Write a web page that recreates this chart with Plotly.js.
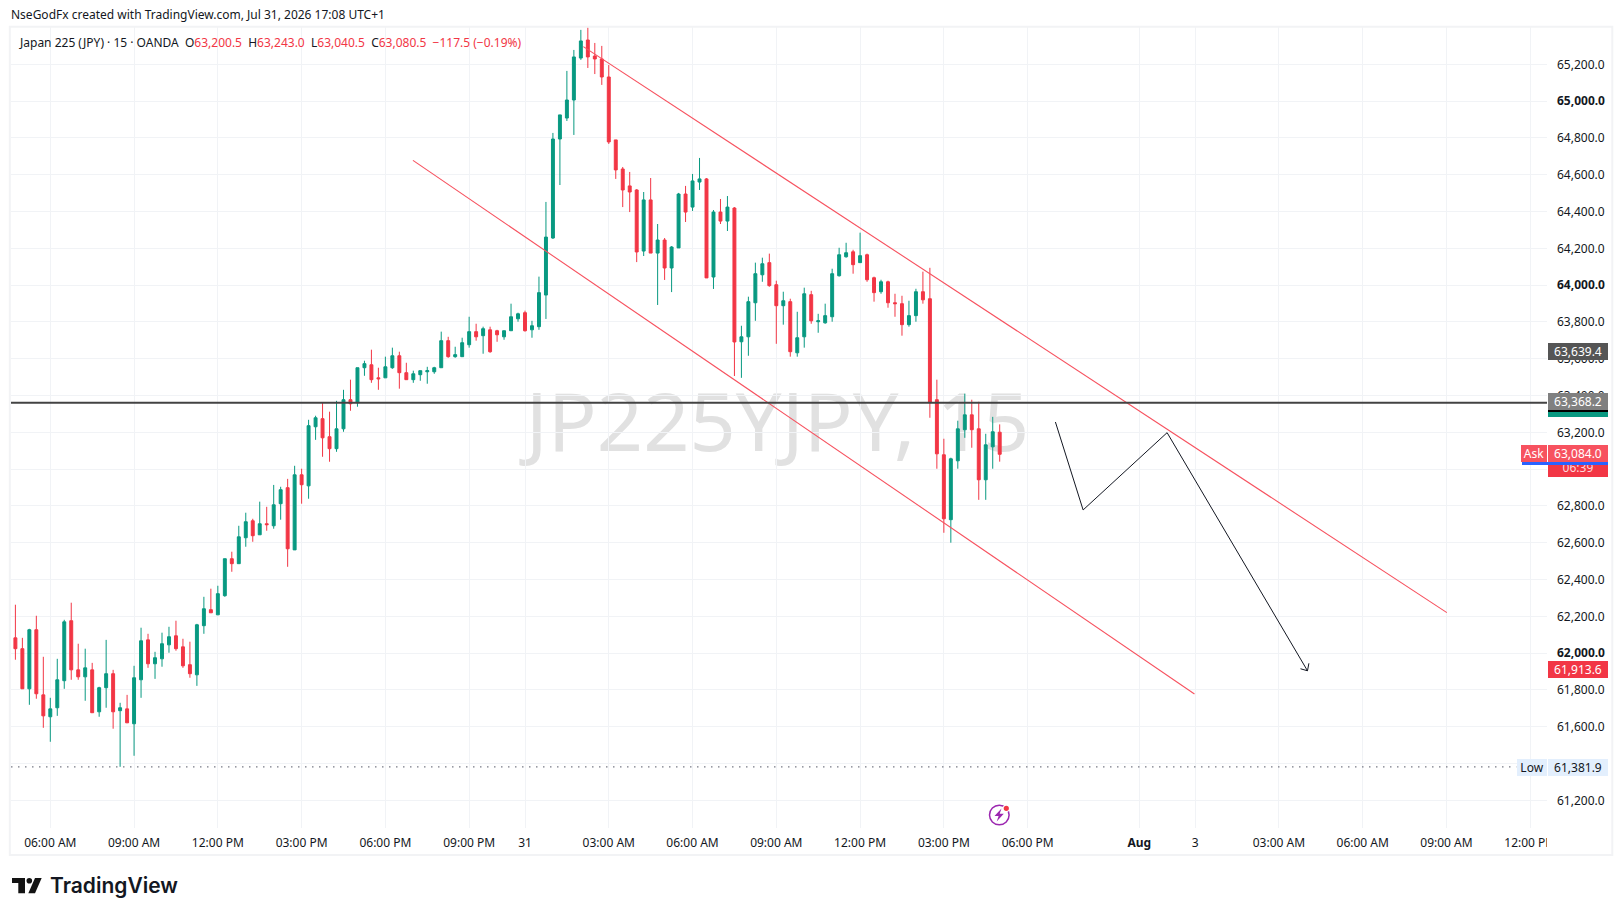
<!DOCTYPE html>
<html>
<head>
<meta charset="utf-8">
<script src="https://cdn.plot.ly/plotly-3.0.1.min.js"></script>
<style>html,body{margin:0;padding:0;background:#fff;overflow:hidden}#chart{width:1623px;height:916px}</style>
</head>
<body>
<div id="chart"></div>
<script>
const openPrices = [61801,62083,62024,61806,62127,61773,61654,61703,61850,62176,
61909,61871,61909,61681,61812,61888,61687,61697,61616,61855,
62072,61942,61969,62045,62094,62034,61937,61882,62149,62236,
62208,62312,62513,62486,62627,62719,62643,62703,62692,62812,
62899,62561,62969,62909,63230,63274,63176,63111,63219,63377,
63361,63551,63567,63496,63496,63551,63616,63524,63486,63513,
63529,63529,63551,63698,63611,63611,63676,63747,63725,63757,
63752,63719,63752,63817,63850,63757,63774,63946,64256,64794,
64908,65006,65234,65332,65245,65229,65131,64789,64631,64539,
64517,64185,64463,64174,64245,64093,64202,64495,64424,64560,
64577,64044,64397,64348,64419,63692,63719,63904,64056,64122,
64002,63888,63910,63632,63719,63948,63801,63795,63828,64051,
64154,64181,64122,64165,64040,63964,64018,63904,63899,63785,
63834,63964,63926,63377,63078,62725,63045,63214,63295,63219,
62942,63121,63200.5];
const highPrices = [62091,62263,62083,62132,62203,61980,61757,61969,62181,62274,
62051,62024,61947,61817,62072,61909,61730,61773,61931,62138,
62105,62007,62111,62143,62176,62078,62062,62159,62306,62350,
62366,62513,62551,62692,62763,62730,62823,62795,62914,62904,
62947,63018,63002,63268,63290,63361,63312,63371,63431,63486,
63551,63589,63649,63551,63611,63660,63638,63578,63535,63535,
63556,63556,63747,63719,63665,63714,63828,63790,63774,63774,
63757,63752,63899,63850,63861,63806,64046,64452,64827,64925,
65164,65278,65387,65401,65316,65300,65196,64789,64642,64615,
64522,64506,64582,64332,64256,64212,64501,64539,64604,64691,
64582,64408,64468,64484,64424,63779,63937,64122,64149,64171,
64024,63964,63926,63855,63986,63969,63844,63899,64089,64203,
64230,64192,64285,64171,64046,64029,64024,63953,63942,63915,
63980,64073,64094,63486,63165,63062,63263,63410,63377,63366,
63192,63284,63243];
const lowPrices = [61801,61964,61806,61719,61752,61594,61518,61659,61806,61855,
61855,61741,61676,61654,61703,61589,61382,61621,61442,61757,
61920,61860,61926,62002,62013,61920,61866,61822,62105,62219,
62208,62306,62442,62486,62578,62605,62643,62665,62676,62725,
62469,62561,62812,62839,63159,63067,63040,63094,63203,63317,
63339,63507,63469,63431,63496,63545,63437,63486,63469,63480,
63464,63518,63551,63605,63605,63611,63660,63698,63627,63632,
63692,63703,63752,63801,63747,63714,63757,63816,64251,64544,
64892,64816,65224,65180,65147,65088,64767,64577,64424,64397,
64125,64158,64174,63892,64028,63962,64202,64343,64403,64517,
64039,63979,64332,64294,63506,63496,63616,63806,64018,63991,
63681,63785,63611,63611,63660,63790,63741,63790,63801,64046,
64149,64062,64122,64018,63910,63953,63877,63828,63725,63774,
63801,63899,63279,63002,62654,62600,63002,63170,63116,62833,
62833,63002,63040.5];
const closePrices = [62091,62024,61806,62127,61779,61659,61697,61855,62170,61909,
61871,61920,61676,61812,61888,61681,61703,61621,61866,62067,
61942,61975,62051,62089,62024,61931,61888,62154,62241,62219,
62323,62513,62486,62632,62714,62638,62703,62698,62806,62888,
62567,62969,62915,63236,63279,63170,63111,63219,63377,63355,
63551,63573,63486,63491,63556,63616,63524,63486,63518,63535,
63535,63551,63698,63611,63622,63687,63747,63719,63763,63638,
63730,63752,63828,63844,63752,63779,63959,64261,64794,64925,
65006,65240,65327,65240,65229,65131,64778,64626,64517,64506,
64180,64463,64174,64245,64093,64207,64495,64397,64566,64577,
64039,64397,64348,64424,63691,63719,63910,64062,64116,63997,
63888,63915,63638,63714,63953,63806,63806,63834,64062,64165,
64176,64111,64160,64029,63959,64018,63904,63899,63785,63834,
63964,63920,63361,63083,62730,63056,63219,63295,63214,62942,
63132,63203,63080.5];
const barIndex = openPrices.map((_, i) => i);

const upperChannelX = [82.36, 206.06];
const upperChannelY = [65296, 62220];
const lowerChannelX = [57.95, 169.9];
const lowerChannelY = [64678, 61778];
const pathX = [149.98, 153.95, 165.98, 186.09];
const pathY = [63256, 62778, 63198, 61904];
const arrowX = [185.09, 186.09, 186.29];
const arrowY = [61915, 61904, 61944.5];
const hlinePrice = 63360;
const lowPrice = 61381.9;
const xMin = 0.37, xMax = 220.4, yMin = 61049.5, yMax = 65402.7;
const lowLineEnd = 216;

const xTickIndex = [6,18,30,42,54,66,74,86,98,110,122,134,146,162,170,182,194,206,218];
const xTickLabels = ['06:00 AM','09:00 AM','12:00 PM','03:00 PM','06:00 PM','09:00 PM','31','03:00 AM','06:00 AM','09:00 AM','12:00 PM','03:00 PM','06:00 PM','<b>Aug</b>','3','03:00 AM','06:00 AM','09:00 AM','12:00 PM'];
const yTickValues = [61200,61400,61600,61800,62000,62200,62400,62600,62800,63000,63200,63400,63600,63800,64000,64200,64400,64600,64800,65000,65200];
const yTickLabels = ['61,200.0','61,400.0','61,600.0','61,800.0','<b>62,000.0</b>','62,200.0','62,400.0','62,600.0','62,800.0','63,000.0','63,200.0','63,400.0','63,600.0','63,800.0','<b>64,000.0</b>','64,200.0','64,400.0','64,600.0','64,800.0','<b>65,000.0</b>','65,200.0'];

const UI = 'Noto Sans, sans-serif';
const INK = '#131722', RED = '#f23645', GREEN = '#089981', LINE_RED = '#f7525f', GRID = '#f1f3f6';
const L = 11, T = 27, W = 1536, H = 801;
const xp = x => (x - L) / W;
const yp = y => 1 - (y - T) / H;

const lineTrace = (x, y, color, width, dash) => ({type:'scatter', mode:'lines', x, y, hoverinfo:'skip', showlegend:false,
  line:{color, width, dash: dash || 'solid'}});

const traces = [
  {type:'candlestick', x:barIndex, open:openPrices, high:highPrices, low:lowPrices, close:closePrices, hoverinfo:'skip', showlegend:false,
   whiskerwidth:0,
   increasing:{line:{color:GREEN, width:1}, fillcolor:GREEN},
   decreasing:{line:{color:RED, width:1}, fillcolor:RED}},
  lineTrace(upperChannelX, upperChannelY, LINE_RED, 1.1),
  lineTrace(lowerChannelX, lowerChannelY, LINE_RED, 1.1),
  lineTrace(pathX, pathY, INK, 1),
  lineTrace(arrowX, arrowY, INK, 1),
  lineTrace([xMin, xMax], [hlinePrice, hlinePrice], '#434343', 2),
  lineTrace([xMin, lowLineEnd], [lowPrice, lowPrice], '#787b86', 1.4, '1.5px,5.5px')
];

const box = (text, x0, x1, y0, y1, bg, color, extra) => Object.assign({
  xref:'paper', yref:'paper', x:xp(x0), y:yp((y0+y1)/2), xanchor:'left', yanchor:'middle',
  width:x1-x0, height:y1-y0, borderpad:0, borderwidth:0, bgcolor:bg, showarrow:false, align:'center', valign:'middle',
  text, font:{family:UI, size:12, color}
}, extra || {});

const plain = (text, x, y, size, color, extra) => Object.assign({
  xref:'paper', yref:'paper', x:xp(x), y:yp(y), xanchor:'left', yanchor:'middle', showarrow:false, align:'left',
  text, font:{family:UI, size, color}, borderpad:0
}, extra || {});

const r = s => '<span style="color:'+RED+'">'+s+'</span>';

const annotations = [
  plain('NseGodFx created with TradingView.com, Jul 31, 2026 17:08 UTC+1', 10, 15, 12, INK),
  plain('Japan 225 (JPY) · 15 · OANDA  O'+r('63,200.5')+'  H'+r('63,243.0')+'  L'+r('63,040.5')+'  C'+r('63,080.5')+'  '+r('−117.5 (−0.19%)'), 18, 42, 12, INK),
  box('&nbsp;', 1547, 1564, 835, 850, '#ffffff', INK),
  box('63,639.4', 1548, 1608, 343.3, 360, '#555555', '#ffffff'),
  box('&nbsp;', 1548, 1608, 410, 417, GREEN, '#ffffff'),
  box('&nbsp;', 1548, 1608, 410, 412, '#000000', '#ffffff', {font:{family:UI,size:1,color:'#000'}}),
  box('63,368.2', 1548, 1608, 393.3, 410, '#808080', '#ffffff'),
  box('06:39', 1548, 1608, 459, 476.7, RED, '#ffd6da'),
  box('63,084.0', 1548, 1608, 445.3, 462, LINE_RED, '#ffffff'),
  box('Ask', 1521, 1547, 445.3, 462, LINE_RED, '#ffffff'),
  box('&nbsp;', 1522, 1608, 462, 464.7, '#2962ff', '#fff', {font:{family:UI,size:1,color:'#fff'}}),
  box('61,913.6', 1548, 1608, 661, 677.7, RED, '#ffffff'),
  box('Low', 1517, 1547, 759.3, 776, '#e3effd', INK),
  box('61,381.9', 1548, 1608, 759.3, 776, '#e3effd', INK),
  plain('TradingView', 49, 885.5, 21, INK, {font:{family:'Inter, sans-serif', size:21, color:INK, weight:600}})
];

const poly = (pts, fill) => ({type:'path', xref:'paper', yref:'paper', layer:'above', fillcolor:fill, line:{width:0},
  path:'M'+pts.map(p => xp(p[0])+','+yp(p[1])).join(' L')+' Z'});
const circ = (cx, cy, rad, fill, stroke, sw) => ({type:'circle', xref:'paper', yref:'paper', layer:'above',
  x0:xp(cx-rad), x1:xp(cx+rad), y0:yp(cy+rad), y1:yp(cy-rad), fillcolor:fill, line:{color:stroke, width:sw}});

const shapes = [
  {type:'rect', xref:'paper', yref:'paper', layer:'below', x0:xp(525), x1:xp(1030), y0:yp(470), y1:yp(380),
   fillcolor:'rgba(0,0,0,0)', line:{width:0},
   label:{text:'JP225YJPY, 15', textposition:'middle center', font:{family:UI, size:81, color:'#e1e1e1'}}},
  {type:'rect', xref:'paper', yref:'paper', layer:'above', x0:xp(9.8), x1:xp(1612.3), y0:yp(855), y1:yp(26.7),
   fillcolor:'rgba(0,0,0,0)', line:{color:'#f2f3f5', width:2}},
  poly([[12,878],[25,878],[25,893.3],[18.3,893.3],[18.3,883],[12,883]], '#131313'),
  circ(29.3, 880.7, 2.8, '#131313', '#131313', 0),
  poly([[35,878],[41.7,878],[35,893.3],[28.3,893.3]], '#131313'),
  circ(999.3, 815, 9.8, '#ffffff', '#9c27b0', 1.5),
  poly([[1001.5,808.5],[994.5,816],[998.6,816],[996.7,821.5],[1003.8,813.8],[999.7,813.8]], '#9c27b0'),
  circ(1006.3, 808.3, 3.6, '#ffffff', '#ffffff', 0),
  circ(1006.3, 808.3, 2.6, RED, RED, 0)
];

const layout = {
  width:1623, height:916, autosize:false, paper_bgcolor:'#ffffff', plot_bgcolor:'#ffffff', showlegend:false, hovermode:false,
  margin:{l:L, r:1623-L-W, t:T, b:916-T-H, pad:0}, boxgap:0.4, dragmode:false,
  xaxis:{type:'linear', range:[xMin, xMax], autorange:false, fixedrange:true, rangeslider:{visible:false}, showline:false, zeroline:false,
    showgrid:true, gridcolor:GRID, gridwidth:1, tickmode:'array', tickvals:xTickIndex, ticktext:xTickLabels, ticks:'', ticklabelstandoff:6,
    ticklabeloverflow:'allow', tickfont:{family:UI, size:12, color:INK}},
  yaxis:{type:'linear', side:'right', range:[yMin, yMax], autorange:false, fixedrange:true, showline:false, zeroline:false,
    showgrid:true, gridcolor:GRID, gridwidth:1, tickmode:'array', tickvals:yTickValues, ticktext:yTickLabels, ticks:'', ticklabelstandoff:9,
    tickfont:{family:UI, size:12, color:INK}},
  shapes, annotations
};

Plotly.newPlot('chart', traces, layout, {staticPlot:true, displayModeBar:false});
</script>
</body>
</html>
